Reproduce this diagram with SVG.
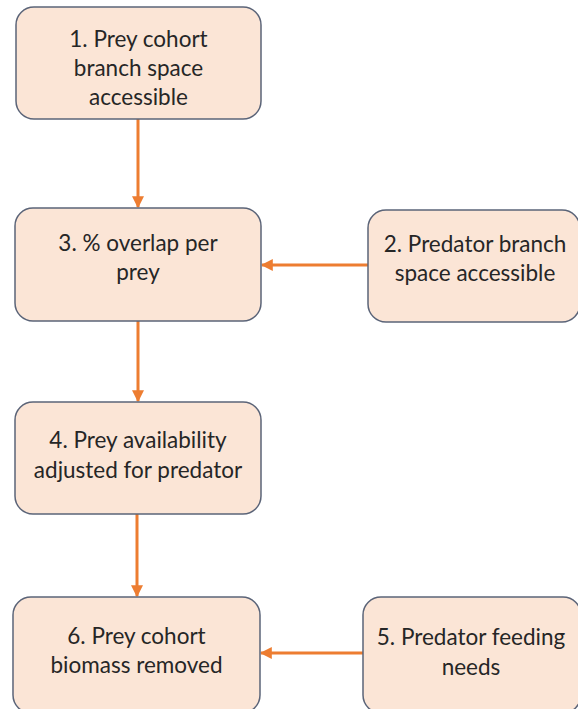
<svg xmlns="http://www.w3.org/2000/svg" width="578" height="709" viewBox="0 0 578 709">
<defs>
<style>
.box{fill:#FBE5D6;stroke:#5B6478;stroke-width:1.5}
.t{font-family:Lato,"Liberation Sans",Arial,sans-serif;font-size:22.5px;fill:#262626;text-anchor:middle}
.c{stroke:#ED7D31;stroke-width:3;fill:none;marker-end:url(#ah)}
</style>
<marker id="ah" viewBox="0 0 10 10" refX="9" refY="5" markerWidth="4" markerHeight="4" orient="auto" markerUnits="strokeWidth">
<path d="M0,0 L10,5 L0,10 z" fill="#ED7D31"/>
</marker>
</defs>
<rect width="578" height="709" fill="#ffffff"/>
<g id="connectors">
<line class="c" x1="138" y1="119" x2="138" y2="207"/>
<line class="c" x1="368" y1="265" x2="262" y2="265"/>
<line class="c" x1="138" y1="321" x2="138" y2="401"/>
<line class="c" x1="137" y1="514" x2="137" y2="596"/>
<line class="c" x1="363" y1="653" x2="261" y2="653"/>
</g>
<g id="n1">
<rect class="box" x="16" y="7" width="245" height="112" rx="18"/>
<text class="t" x="138.5" y="47">1. Prey cohort</text>
<text class="t" x="138.5" y="76">branch space</text>
<text class="t" x="138.5" y="105">accessible</text>
</g>
<g id="n3">
<rect class="box" x="15" y="208" width="246" height="113" rx="18"/>
<text class="t" x="138" y="251">3. % overlap per</text>
<text class="t" x="138" y="280">prey</text>
</g>
<g id="n2">
<rect class="box" x="368" y="210" width="212" height="112" rx="18"/>
<text class="t" x="475" y="252">2. Predator branch</text>
<text class="t" x="475" y="281">space accessible</text>
</g>
<g id="n4">
<rect class="box" x="15" y="402" width="246" height="112" rx="18"/>
<text class="t" x="138" y="448">4. Prey availability</text>
<text class="t" x="138" y="478">adjusted for predator</text>
</g>
<g id="n6">
<rect class="box" x="13" y="597" width="247" height="116" rx="18"/>
<text class="t" x="136.5" y="644">6. Prey cohort</text>
<text class="t" x="136.5" y="673">biomass removed</text>
</g>
<g id="n5">
<rect class="box" x="363" y="597" width="218" height="116" rx="18"/>
<text class="t" x="471" y="645">5. Predator feeding</text>
<text class="t" x="471" y="675">needs</text>
</g>
</svg>
